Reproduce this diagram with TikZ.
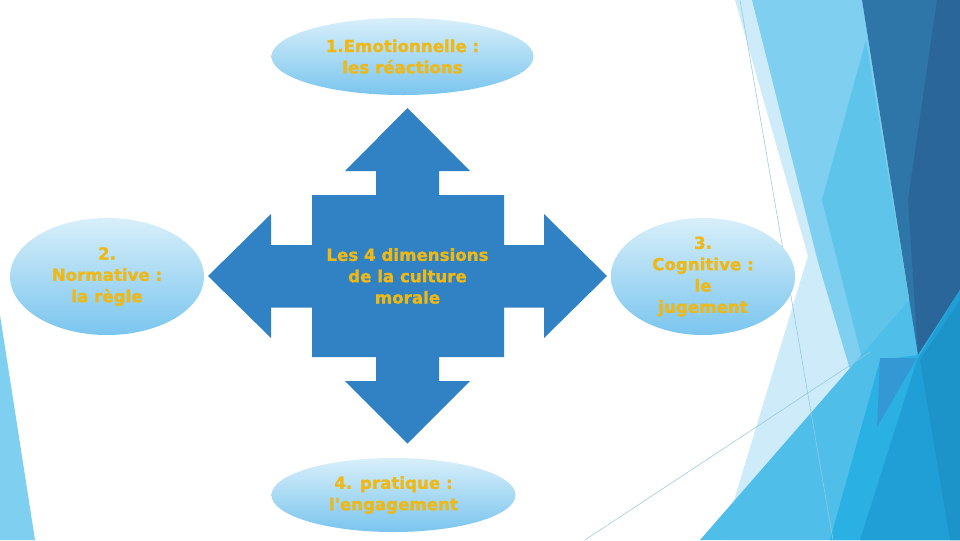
\documentclass[tikz,border=0pt]{standalone}
\usepackage{fontspec}
\usetikzlibrary{shapes.geometric}
\newfontfamily\lblfont[BoldFeatures={FakeBold=1.2}]{DejaVu Sans}
\definecolor{crossblue}{RGB}{49,130,196}
\definecolor{labelgold}{RGB}{238,184,22}
\definecolor{bubbletop}{RGB}{216,239,250}
\definecolor{bubblebot}{RGB}{122,197,238}
\definecolor{bgvlight}{RGB}{205,235,248}
\definecolor{bglight}{RGB}{126,207,240}
\definecolor{bgmid}{RGB}{94,196,234}
\definecolor{bgdark}{RGB}{46,117,168}
\definecolor{bgdarker}{RGB}{42,102,153}
\definecolor{bgtri}{RGB}{79,191,234}
\definecolor{bgbrightA}{RGB}{43,176,227}
\definecolor{bgbrightB}{RGB}{31,159,214}
\definecolor{bgbrightC}{RGB}{28,148,201}
\definecolor{bgviolet}{RGB}{52,152,212}
\definecolor{bgline}{RGB}{150,200,222}

\begin{document}
\begin{tikzpicture}[x=0.75pt, y=-0.75pt,
    lbl/.style={align=center, text=labelgold,
        font=\lblfont\bfseries\fontsize{12.5}{16}\selectfont},
    bubble/.style={lbl, ellipse, inner sep=0pt, top color=bubbletop, bottom color=bubblebot}]
    \useasboundingbox (0,0) rectangle (960,540);
    \fill[white] (0,0) rectangle (960,540);
    % Facets on the right
    \fill[bgvlight] (735,0) -- (960,0) -- (960,540) -- (722,540) -- (808,256) -- cycle;
    \fill[bglight] (752,0) -- (862,0) -- (918,355) -- (880,470) -- (818,262) -- cycle;
    \fill[bgmid] (866,40) -- (918,355) -- (880,430) -- (822,200) -- cycle;
    \fill[bgtri] (700,540) -- (960,242) -- (960,540) -- cycle;
    \fill[bgdark] (862,0) -- (960,0) -- (960,290) -- (918,355) -- cycle;
    \fill[bgdarker] (937,0) -- (960,0) -- (960,290) -- (918,355) -- (908,200) -- cycle;
    \fill[bgbrightA] (830,540) -- (880,360) -- (918,355) -- (960,290) -- (960,540) -- cycle;
    \fill[bgbrightB] (860,540) -- (917,360) -- (960,290) -- (960,540) -- cycle;
    \fill[bgbrightC] (950,540) -- (920,360) -- (960,300) -- (960,540) -- cycle;
    \fill[bgviolet] (880,358) -- (917,358) -- (877,427) -- cycle;
    \draw[bgline, line width=0.4pt] (740,0) -- (833,540);
    \draw[bgline, line width=0.4pt] (585,540) -- (870,352);
    % sliver on the left
    \fill[bglight] (0,315) -- (35,540) -- (0,540) -- cycle;
    % Cross arrow
    \fill[crossblue] (407.5,108) -- (470,171) -- (439,171) -- (439,195) -- (504,195)
        -- (504,245) -- (544,245) -- (544,214) -- (607,276) -- (544,338) -- (544,307.5)
        -- (504,307.5) -- (504,357) -- (439,357) -- (439,381) -- (470,381)
        -- (407.5,443.5) -- (345,381) -- (376,381) -- (376,357) -- (312,357)
        -- (312,307.5) -- (271,307.5) -- (271,338) -- (208,276) -- (271,214)
        -- (271,245) -- (312,245) -- (312,195) -- (376,195) -- (376,171)
        -- (345,171) -- cycle;
    \node[lbl] (centre) at (407.5,276) {Les 4 dimensions\\de la culture\\morale};
    % Ellipses
    \node[bubble, minimum width=196.5pt, minimum height=57.75pt] (emo) at (402.5,56.5)
        {1.Emotionnelle :\\les réactions};
    \node[bubble, minimum width=145.5pt, minimum height=87.75pt] (norm) at (107,276.5)
        {2.\\Normative :\\la règle};
    \node[bubble, minimum width=138pt, minimum height=87.75pt] (cogn) at (703,276.5)
        {3.\\Cognitive :\\le\\jugement};
    \node[bubble, minimum width=183pt, minimum height=55.5pt] (prat) at (393.5,495)
        {4. pratique :\\l'engagement};
\end{tikzpicture}
\end{document}
